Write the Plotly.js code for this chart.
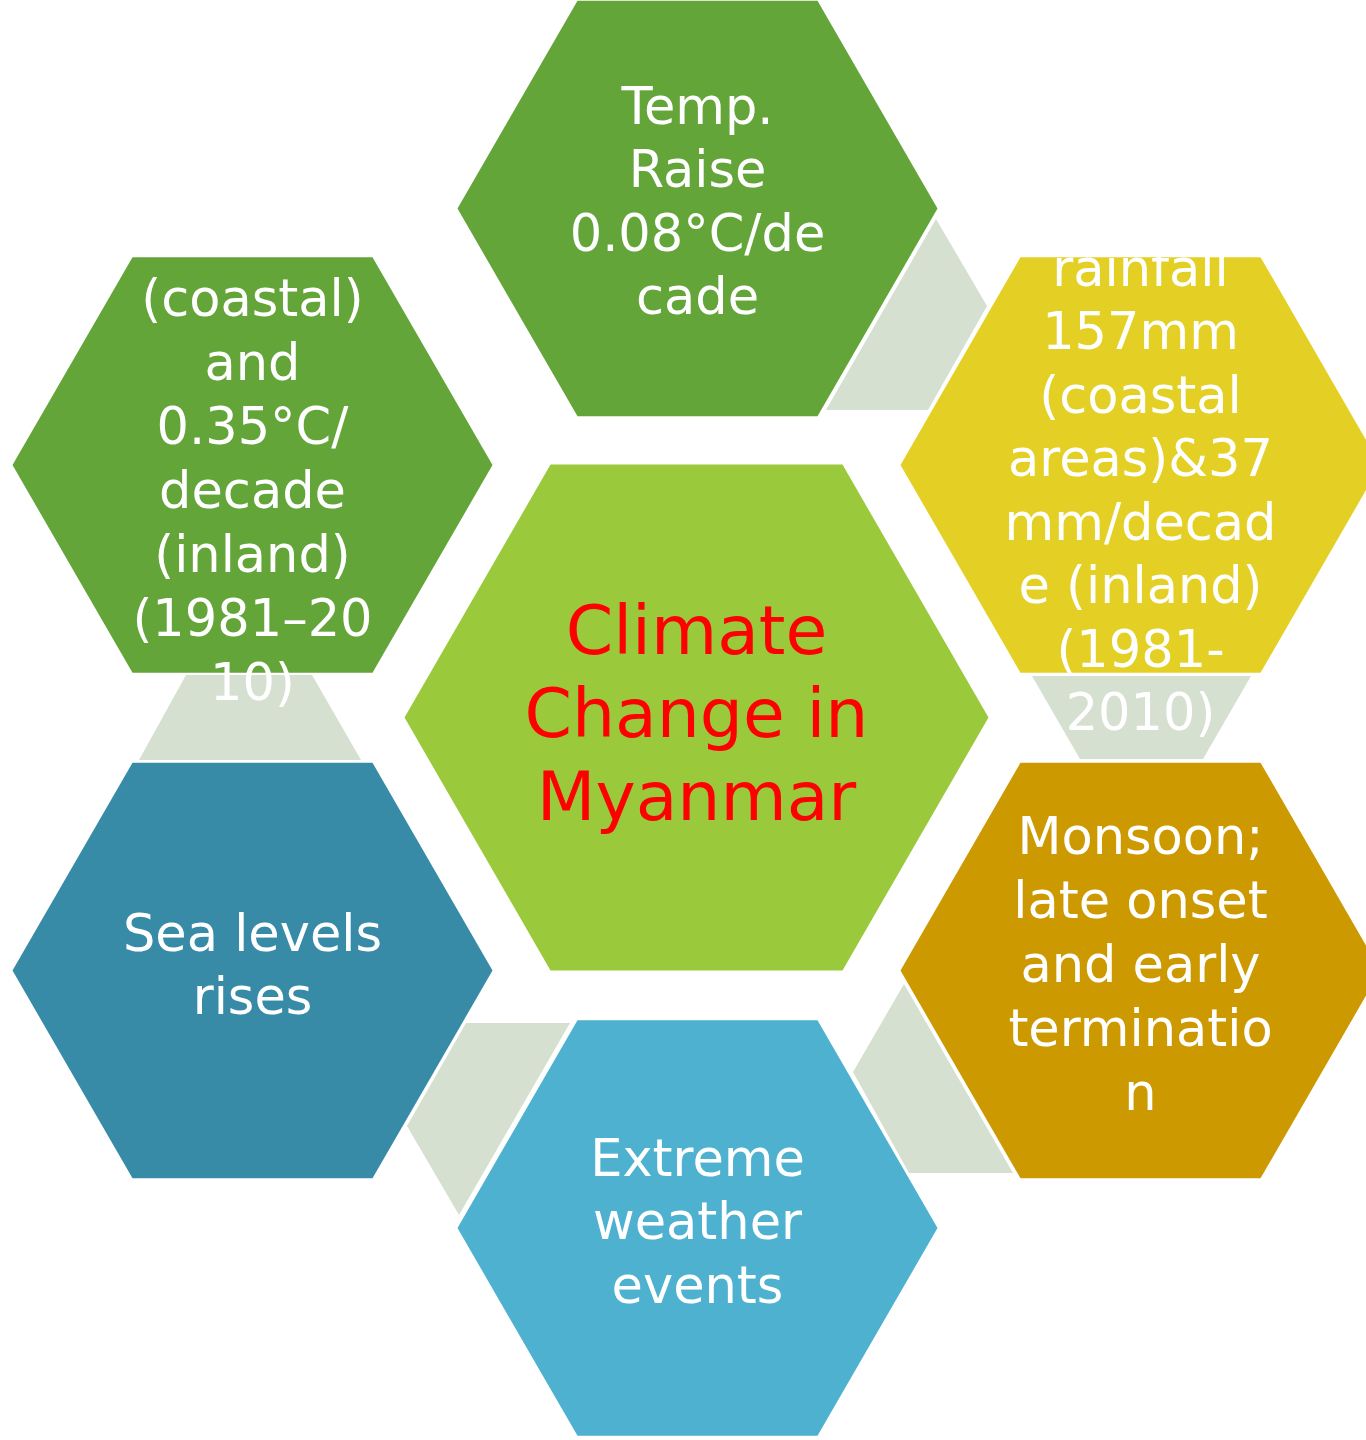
<!DOCTYPE html>
<html>
<head>
<meta charset="utf-8">
<script src="https://cdn.plot.ly/plotly-3.0.1.min.js"></script>
<style>html,body{margin:0;padding:0;background:#fff;}#chart{width:1366px;height:1440px;}</style>
</head>
<body>
<div id="chart"></div>
<script>
// ---- data ----
const hexNames = ['center', 'top', 'topRight', 'bottomRight', 'bottom', 'bottomLeft', 'topLeft'];
const centerLines = ['Climate', 'Change in', 'Myanmar'];
const topLines = ['Temp.', 'Raise', '0.08°C/de', 'cade'];
const topRightLines = ['rainfall', '157mm', '(coastal', 'areas)&37', 'mm/decad', 'e (inland)', '(1981-', '2010)'];
const bottomRightLines = ['Monsoon;', 'late onset', 'and early', 'terminatio', 'n'];
const bottomLines = ['Extreme', 'weather', 'events'];
const bottomLeftLines = ['Sea levels', 'rises'];
const topLeftLines = ['(coastal)', 'and', '0.35°C/', 'decade', '(inland)', '(1981–20', '10)'];

// ---- layout geometry & styles (not data) ----
const W = 1366, H = 1440;
const geo = {
  center:      {cx: 696.5,  cy: 717.5, s: 292, fill: '#9aca3c', font: 68, color: '#ff0000', y0: 637, gap: 83, lines: centerLines},
  top:         {cx: 697.5,  cy: 208.5, s: 240, fill: '#63a539', font: 51, color: '#ffffff', y0: 111, gap: 63.5, lines: topLines},
  topRight:    {cx: 1140.5, cy: 465,   s: 240, fill: '#e4d024', font: 51, color: '#ffffff', y0: 273, gap: 63.5, lines: topRightLines},
  bottomRight: {cx: 1140.5, cy: 970.5, s: 240, fill: '#cc9900', font: 51, color: '#ffffff', y0: 841, gap: 64, lines: bottomRightLines},
  bottom:      {cx: 697.5,  cy: 1228,  s: 240, fill: '#4eb1cf', font: 51, color: '#ffffff', y0: 1163, gap: 63.5, lines: bottomLines},
  bottomLeft:  {cx: 252.5,  cy: 970.5, s: 240, fill: '#378ba7', font: 51, color: '#ffffff', y0: 938, gap: 63, lines: bottomLeftLines},
  topLeft:     {cx: 252.5,  cy: 465,   s: 240, fill: '#63a539', font: 51, color: '#ffffff', y0: 303, gap: 64, lines: topLeftLines}
};
const connectorColor = '#d5e0d0';
const connectors = [
  [[936,219],[987,306],[928,410],[826,410]],
  [[186,675],[312,675],[361,760],[139,760]],
  [[1032,676],[1251,676],[1203,759],[1080,759]],
  [[466,1023],[570,1023],[459,1215],[407,1126]],
  [[904,984],[853,1072],[909,1173],[1013,1173]]
];
const FONT = 'DejaVu Sans, sans-serif';

function hexPts(g) {
  const h = g.s * Math.sqrt(3) / 2, a = g.s / 2;
  const xs = [g.cx - g.s, g.cx - a, g.cx + a, g.cx + g.s, g.cx + a, g.cx - a, g.cx - g.s];
  const ys = [g.cy, g.cy - h, g.cy - h, g.cy, g.cy + h, g.cy + h, g.cy];
  return {xs, ys};
}

const traces = [];
connectors.forEach(c => {
  const xs = c.map(p => p[0]).concat([c[0][0]]);
  const ys = c.map(p => p[1]).concat([c[0][1]]);
  traces.push({type: 'scatter', mode: 'lines', x: xs, y: ys, fill: 'toself', fillcolor: connectorColor,
    line: {width: 0, color: connectorColor}, hoverinfo: 'skip', showlegend: false});
});
hexNames.forEach(n => {
  const g = geo[n];
  const p = hexPts(g);
  traces.push({type: 'scatter', mode: 'lines', x: p.xs, y: p.ys, fill: 'toself', fillcolor: g.fill,
    line: {width: 0, color: g.fill}, hoverinfo: 'skip', showlegend: false, name: n});
});
hexNames.forEach(n => {
  const g = geo[n];
  traces.push({type: 'scatter', mode: 'text',
    x: g.lines.map(() => g.cx),
    y: g.lines.map((_, i) => g.y0 + i * g.gap),
    text: g.lines, textposition: 'middle center',
    textfont: {family: FONT, size: g.font, color: g.color},
    hoverinfo: 'skip', showlegend: false, cliponaxis: true});
});

const layout = {
  width: W, height: H,
  margin: {l: 0, r: 0, t: 0, b: 0, pad: 0},
  paper_bgcolor: '#ffffff', plot_bgcolor: '#ffffff',
  xaxis: {range: [0, W], visible: false, fixedrange: true},
  yaxis: {range: [H, 0], visible: false, fixedrange: true},
  showlegend: false
};
Plotly.newPlot('chart', traces, layout, {displayModeBar: false, staticPlot: true});
</script>
</body>
</html>
